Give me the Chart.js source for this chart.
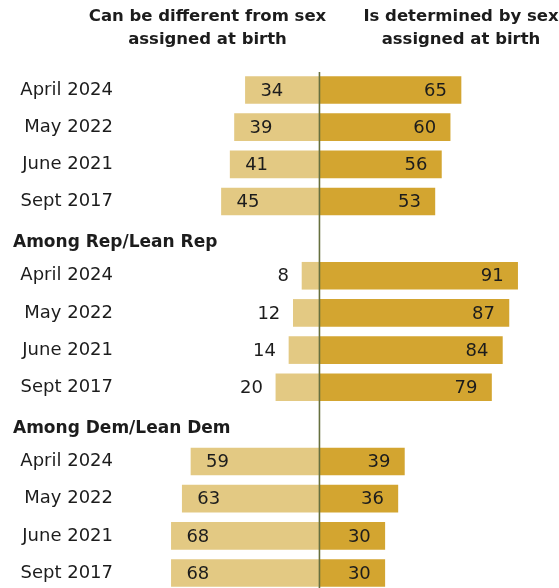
<!DOCTYPE html>
<html>
<head>
<meta charset="utf-8">
<script src="https://cdn.jsdelivr.net/npm/chart.js@4/dist/chart.umd.min.js"></script>
<style>
  html, body { margin: 0; padding: 0; background: #ffffff; }
  #wrap { width: 559px; height: 588px; position: relative; }
</style>
</head>
<body>
<div id="wrap"><canvas id="c"></canvas></div>
<script>
// ---- Data ----
const rowLabels = [
  'April 2024', 'May 2022', 'June 2021', 'Sept 2017',
  'Among Rep/Lean Rep',
  'April 2024', 'May 2022', 'June 2021', 'Sept 2017',
  'Among Dem/Lean Dem',
  'April 2024', 'May 2022', 'June 2021', 'Sept 2017'
];
const headerRows = ['Among Rep/Lean Rep', 'Among Dem/Lean Dem'];
const canBeDifferent = [34, 39, 41, 45, null, 8, 12, 14, 20, null, 59, 63, 68, 68];
const isDetermined   = [65, 60, 56, 53, null, 91, 87, 84, 79, null, 39, 36, 30, 30];
const columnHeaders = [
  ['Can be different from sex', 'assigned at birth'],
  ['Is determined by sex', 'assigned at birth']
];

const LIGHT = '#E3C983';
const GOLD = '#D3A530';
const TEXT = '#1c1c1c';
const LABEL_FONT = '18px "DejaVu Sans"';
const BOLD_FONT = 'bold 16.5px "DejaVu Sans"';

const overlay = {
  id: 'overlay',
  afterDatasetsDraw(chart) {
    const ctx = chart.ctx;
    const xs = chart.scales.x, ys = chart.scales.y;
    const zeroX = xs.getPixelForValue(0);
    ctx.save();
    // center line
    ctx.strokeStyle = '#66703f';
    ctx.lineWidth = 1.6;
    ctx.beginPath();
    ctx.moveTo(zeroX, 72);
    ctx.lineTo(zeroX, 588);
    ctx.stroke();

    // value labels
    ctx.font = LABEL_FONT;
    ctx.fillStyle = TEXT;
    ctx.textBaseline = 'middle';
    const leftMeta = chart.getDatasetMeta(0);
    leftMeta.data.forEach((bar, i) => {
      const v = canBeDifferent[i];
      if (v == null) return;
      const txt = String(v);
      const w = ctx.measureText(txt).width;
      const start = Math.min(bar.x, bar.base);
      const len = Math.abs(bar.base - bar.x);
      if (len >= w + 30) {
        ctx.textAlign = 'left';
        ctx.fillText(txt, start + 15, bar.y + 1);
      } else {
        ctx.textAlign = 'right';
        ctx.fillText(txt, start - 13, bar.y + 1);
      }
    });
    const rightMeta = chart.getDatasetMeta(1);
    rightMeta.data.forEach((bar, i) => {
      const v = isDetermined[i];
      if (v == null) return;
      ctx.textAlign = 'right';
      ctx.fillText(String(v), Math.max(bar.x, bar.base) - 14, bar.y + 1);
    });

    // section headers
    ctx.font = 'bold 17px "DejaVu Sans"';
    ctx.textAlign = 'left';
    rowLabels.forEach((lab, i) => {
      if (headerRows.includes(lab)) {
        ctx.fillText(lab, 13, ys.getPixelForValue(i) + 4);
      }
    });

    // column headers
    ctx.font = BOLD_FONT;
    ctx.textAlign = 'center';
    const centers = [207.5, 461];
    columnHeaders.forEach((lines, k) => {
      lines.forEach((ln, j) => {
        ctx.fillText(ln, centers[k], 17 + j * 23);
      });
    });
    ctx.restore();
  }
};

new Chart(document.getElementById('c'), {
  type: 'bar',
  data: {
    labels: rowLabels,
    datasets: [
      {
        label: columnHeaders[0].join(' '),
        data: canBeDifferent.map(v => v == null ? null : -v),
        backgroundColor: LIGHT,
        borderWidth: 0,
        barThickness: 27,
        clip: false
      },
      {
        label: columnHeaders[1].join(' '),
        data: isDetermined,
        backgroundColor: GOLD,
        borderWidth: 0,
        barThickness: 27,
        clip: false
      }
    ]
  },
  options: {
    indexAxis: 'y',
    responsive: true,
    maintainAspectRatio: false,
    animation: false,
    layout: { padding: { top: 90, bottom: 15, left: 0, right: 0 } },
    plugins: {
      legend: { display: false },
      tooltip: { enabled: false },
      title: { display: false }
    },
    scales: {
      x: {
        stacked: true,
        min: -87,
        max: 110,
        display: false
      },
      y: {
        stacked: true,
        offset: false,
        grid: { display: false, drawTicks: false },
        border: { display: false },
        afterFit(scale) {
          scale.width = 130;
          scale.paddingTop = 0;
          scale.paddingBottom = 0;
        },
        ticks: {
          autoSkip: false,
          padding: 17,
          color: TEXT,
          font: { family: 'DejaVu Sans', size: 18 },
          callback(value, index) {
            const lab = rowLabels[index];
            return headerRows.includes(lab) ? '' : lab;
          }
        }
      }
    }
  },
  plugins: [overlay]
});
</script>
</body>
</html>
